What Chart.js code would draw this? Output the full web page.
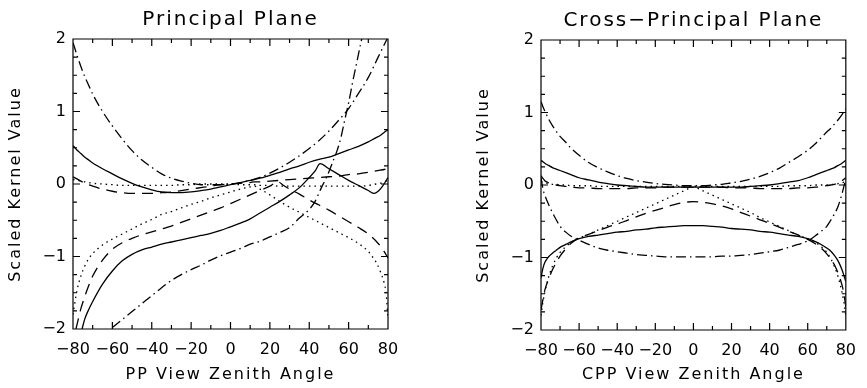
<!DOCTYPE html>
<html>
<head>
<meta charset="utf-8">
<title>Scaled kernel values</title>
<script src="https://cdn.jsdelivr.net/npm/chart.js@4.4.1/dist/chart.umd.min.js"></script>
<style>
  body { margin: 0; background: #fff; }
  canvas.panel { position: absolute; top: 0; }
</style>
</head>
<body>
<canvas id="pp" class="panel" width="434" height="388" style="left:0"></canvas>
<canvas id="cpp" class="panel" width="433" height="388" style="left:434px"></canvas>
<script>
// axis ticks
const xTicks = [-80, -60, -40, -20, 0, 20, 40, 60, 80];
const xMinorTicks = [-80, -70, -60, -50, -40, -30, -20, -10, 0, 10, 20, 30, 40, 50, 60, 70, 80];
const yTicks = [-2, -1, 0, 1, 2];
const yMinorTicks = [-2, -1.75, -1.5, -1.25, -1, -0.75, -0.5, -0.25, 0, 0.25, 0.5, 0.75, 1, 1.25, 1.5, 1.75, 2];

// ---- principal plane ----
const ppAngle = [-80, -78, -76, -74, -72, -70, -65, -60, -55, -50, -45, -40, -35, -30, -25, -20, -15, -10, -5, 0,
  5, 10, 12, 15, 20, 25, 30, 35, 40, 45, 50, 55, 60, 65, 70, 72, 74, 76, 78, 79, 80];
const ppSolidUpper = [0.53, 0.47, 0.42, 0.37, 0.33, 0.29, 0.21, 0.14, 0.07, 0.01, -0.04, -0.08, -0.11, -0.12, -0.12, -0.11, -0.09, -0.07, -0.04, -0.01,
  0.02, 0.05, 0.06, 0.08, 0.12, 0.16, 0.21, 0.25, 0.30, 0.34, 0.37, 0.42, 0.47, 0.52, 0.58, 0.61, 0.64, 0.67, 0.71, 0.73, 0.75];
const ppDashedUpper = [0.10, 0.07, 0.04, 0.01, -0.01, -0.03, -0.07, -0.10, -0.12, -0.13, -0.13, -0.13, -0.12, -0.11, -0.09, -0.07, -0.05, -0.03, -0.01, 0.00,
  0.01, 0.02, 0.03, 0.03, 0.04, 0.05, 0.06, 0.07, 0.08, 0.09, 0.10, 0.11, 0.13, 0.14, 0.16, 0.17, 0.18, 0.19, 0.20, 0.21, 0.22];
const ppDottedUpper = [0.06, 0.05, 0.04, 0.03, 0.02, 0.01, 0.00, -0.01, -0.02, -0.02, -0.02, -0.02, -0.02, -0.02, -0.01, -0.01, 0.00, 0.00, 0.00, 0.00,
  -0.01, -0.01, -0.01, -0.02, -0.02, -0.03, -0.03, -0.03, -0.03, -0.03, -0.03, -0.03, -0.03, -0.03, -0.02, -0.01, 0.00, 0.01, 0.03, 0.04, 0.05];
const ppDottedLower = [-1.80, -1.47, -1.27, -1.13, -1.03, -0.96, -0.84, -0.76, -0.69, -0.62, -0.55, -0.49, -0.42, -0.38, -0.33, -0.28, -0.24, -0.19, -0.15, -0.11,
  -0.07, -0.04, -0.03, -0.07, -0.15, -0.24, -0.32, -0.39, -0.46, -0.53, -0.60, -0.67, -0.74, -0.82, -0.93, -1.00, -1.08, -1.20, -1.36, -1.50, -1.85];

const ppSolidLowerAngle = [-75.4, -74, -72, -70, -65, -60, -55, -50, -45, -40, -35, -30, -25, -20, -15, -10, -5, 0,
  5, 10, 15, 20, 25, 30, 35, 40, 43, 45.5, 50, 55, 60, 65, 70, 73, 75, 77, 80];
const ppSolidLower = [-2.0, -1.86, -1.73, -1.62, -1.38, -1.20, -1.06, -0.97, -0.91, -0.87, -0.83, -0.80, -0.77, -0.74, -0.71, -0.68, -0.64, -0.59,
  -0.54, -0.48, -0.40, -0.32, -0.24, -0.15, -0.05, 0.09, 0.18, 0.28, 0.21, 0.13, 0.05, -0.02, -0.09, -0.13, -0.10, -0.04, 0.09];

const ppDashDotUpperAngle = [-80, -78, -76, -74, -72, -70, -65, -60, -55, -50, -45, -40, -35, -30, -25, -20, -15, -10, -5, 0,
  5, 10, 15, 20, 25, 30, 35, 40, 45, 50, 55, 60, 65, 70, 75, 79.5];
const ppDashDotUpper = [1.95, 1.78, 1.62, 1.48, 1.36, 1.24, 1.00, 0.80, 0.62, 0.46, 0.33, 0.23, 0.14, 0.08, 0.04, 0.01, -0.01, -0.01, -0.01, 0.00,
  0.02, 0.05, 0.09, 0.15, 0.22, 0.30, 0.39, 0.49, 0.60, 0.73, 0.88, 1.04, 1.25, 1.47, 1.75, 2.0];

const ppDashDotLowerAngle = [-60, -55, -50, -45, -40, -35, -30, -25, -20, -15, -10, -5, 0,
  5, 10, 15, 20, 25, 30, 35, 40, 43, 46, 48, 50, 52, 54, 56, 58, 60, 62, 64, 66, 67];
const ppDashDotLower = [-1.98, -1.87, -1.76, -1.65, -1.54, -1.43, -1.33, -1.25, -1.18, -1.12, -1.05, -0.99, -0.94,
  -0.89, -0.83, -0.79, -0.73, -0.67, -0.60, -0.47, -0.35, -0.24, -0.06, 0.05, 0.17, 0.31, 0.45, 0.63, 0.88, 1.12, 1.40, 1.66, 1.92, 2.04];

const ppDashedLowerAngle = [-78.5, -76, -74, -72, -70, -65, -60, -55, -50, -45, -40, -35, -30, -25, -20, -15, -10, -5, 0,
  5, 10, 15, 20, 24, 27, 30, 35, 40, 45, 50, 55, 60, 65, 70, 75, 78, 80];
const ppDashedLower = [-2.0, -1.72, -1.55, -1.40, -1.27, -1.05, -0.90, -0.81, -0.75, -0.70, -0.66, -0.62, -0.58, -0.53, -0.48, -0.43, -0.38, -0.33, -0.27,
  -0.21, -0.15, -0.09, -0.03, 0.03, -0.02, -0.07, -0.14, -0.22, -0.29, -0.36, -0.44, -0.52, -0.60, -0.69, -0.82, -0.93, -1.02];

// ---- cross-principal plane ----
const cppAngle = [-80, -79, -78, -76, -74, -72, -70, -67, -64, -60, -55, -50, -45, -40, -35, -30, -25, -20, -15, -10, -5, 0,
  5, 10, 15, 20, 25, 30, 35, 40, 45, 50, 55, 60, 64, 67, 70, 72, 74, 76, 78, 79, 80];
const cppDashDotUpper = [1.15, 1.08, 1.02, 0.91, 0.82, 0.74, 0.67, 0.59, 0.50, 0.41, 0.31, 0.24, 0.18, 0.13, 0.09, 0.06, 0.04, 0.02, 0.01, 0.00, -0.01, -0.01,
  -0.01, 0.00, 0.01, 0.03, 0.05, 0.08, 0.12, 0.17, 0.23, 0.31, 0.39, 0.48, 0.57, 0.65, 0.73, 0.78, 0.84, 0.90, 0.97, 1.01, 1.05];
const cppSolidUpper = [0.34, 0.32, 0.30, 0.27, 0.24, 0.22, 0.20, 0.17, 0.14, 0.10, 0.07, 0.04, 0.02, 0.00, -0.01, -0.02, -0.03, -0.03, -0.03, -0.03, -0.03, -0.03,
  -0.03, -0.03, -0.03, -0.03, -0.03, -0.02, -0.01, 0.00, 0.02, 0.04, 0.06, 0.10, 0.14, 0.17, 0.20, 0.22, 0.24, 0.27, 0.30, 0.32, 0.34];
const cppDashedUpper = [0.13, 0.09, 0.06, 0.03, 0.01, 0.00, -0.01, -0.02, -0.03, -0.04, -0.04, -0.05, -0.05, -0.05, -0.05, -0.04, -0.04, -0.04, -0.03, -0.03, -0.03, -0.03,
  -0.03, -0.03, -0.03, -0.04, -0.04, -0.04, -0.05, -0.05, -0.05, -0.05, -0.04, -0.04, -0.03, -0.02, -0.01, 0.00, 0.01, 0.03, 0.06, 0.08, 0.10];
const cppDottedUpper = [0.05, 0.04, 0.03, 0.02, 0.01, 0.01, 0.00, 0.00, -0.01, -0.01, -0.01, -0.02, -0.02, -0.02, -0.02, -0.02, -0.02, -0.02, -0.02, -0.02, -0.02, -0.02,
  -0.02, -0.02, -0.02, -0.02, -0.02, -0.02, -0.02, -0.02, -0.02, -0.01, -0.01, -0.01, 0.00, 0.00, 0.00, 0.01, 0.01, 0.02, 0.03, 0.04, 0.05];
const cppDashDotLower = [0.10, -0.05, -0.14, -0.27, -0.38, -0.48, -0.57, -0.65, -0.71, -0.76, -0.82, -0.87, -0.90, -0.92, -0.94, -0.96, -0.97, -0.98, -0.99, -0.99, -0.99, -0.99,
  -0.99, -0.99, -0.98, -0.98, -0.97, -0.96, -0.94, -0.92, -0.90, -0.86, -0.82, -0.77, -0.70, -0.64, -0.57, -0.49, -0.40, -0.29, -0.12, -0.02, 0.08];
const cppSolidLower = [-1.28, -1.15, -1.07, -0.99, -0.94, -0.90, -0.86, -0.82, -0.78, -0.74, -0.71, -0.69, -0.67, -0.65, -0.64, -0.62, -0.61, -0.59, -0.58, -0.57, -0.56, -0.56,
  -0.56, -0.57, -0.58, -0.60, -0.61, -0.62, -0.64, -0.65, -0.67, -0.69, -0.71, -0.74, -0.78, -0.82, -0.87, -0.91, -0.97, -1.05, -1.17, -1.25, -1.33];
const cppDashedLower = [-1.72, -1.58, -1.45, -1.30, -1.17, -1.07, -0.98, -0.88, -0.80, -0.73, -0.68, -0.63, -0.58, -0.54, -0.49, -0.44, -0.39, -0.35, -0.31, -0.27, -0.24, -0.23,
  -0.24, -0.26, -0.29, -0.33, -0.38, -0.43, -0.48, -0.53, -0.58, -0.64, -0.69, -0.75, -0.81, -0.87, -0.95, -1.02, -1.10, -1.22, -1.38, -1.50, -1.68];
const cppDottedLower = [-1.80, -1.62, -1.48, -1.27, -1.12, -1.01, -0.93, -0.85, -0.79, -0.73, -0.68, -0.62, -0.56, -0.50, -0.44, -0.38, -0.32, -0.26, -0.20, -0.14, -0.08, -0.03,
  -0.08, -0.14, -0.20, -0.26, -0.32, -0.38, -0.45, -0.51, -0.57, -0.63, -0.69, -0.74, -0.79, -0.85, -0.93, -1.01, -1.12, -1.27, -1.48, -1.62, -1.80];

// line styles
const SOLID = [];
const DASHED = [11, 7];
const DOTTED = [1.5, 4];
const DASH_DOT = [10, 4, 1.5, 4];

Chart.defaults.font.family = "'DejaVu Sans', sans-serif";
Chart.defaults.color = '#000';

const minus = v => (v < 0 ? '\u2212' + Math.abs(v) : String(v));

function curve(angles, values, dash) {
  return {
    data: angles.map((a, i) => ({ x: a, y: values[i] })),
    borderColor: '#000',
    borderWidth: 1.3,
    borderDash: dash,
    pointRadius: 0,
    fill: false,
    cubicInterpolationMode: 'monotone'
  };
}

// wider letter spacing for the titles, plain spacing for tick labels (drawn after the datasets)
const spacedTitles = {
  id: 'spacedTitles',
  beforeDraw(chart) { chart.ctx.letterSpacing = '2px'; },
  beforeDatasetsDraw(chart) { chart.ctx.letterSpacing = '0px'; }
};

// closed frame with inward ticks on all four sides
const frame = {
  id: 'frame',
  afterDatasetsDraw(chart) {
    const { ctx, chartArea: { left, right, top, bottom }, scales: { x, y } } = chart;
    ctx.save();
    ctx.strokeStyle = '#000';
    ctx.lineWidth = 1.2;
    ctx.beginPath();
    ctx.rect(left, top, right - left, bottom - top);
    xMinorTicks.forEach(v => {
      const px = x.getPixelForValue(v);
      const len = xTicks.includes(v) ? 7 : 4;
      ctx.moveTo(px, bottom); ctx.lineTo(px, bottom - len);
      ctx.moveTo(px, top); ctx.lineTo(px, top + len);
    });
    yMinorTicks.forEach(v => {
      const py = y.getPixelForValue(v);
      const len = yTicks.includes(v) ? 7 : 4;
      ctx.moveTo(left, py); ctx.lineTo(left + len, py);
      ctx.moveTo(right, py); ctx.lineTo(right - len, py);
    });
    ctx.stroke();
    ctx.restore();
  }
};

function panel(id, title, xTitle, datasets, pad) {
  return new Chart(document.getElementById(id), {
    type: 'line',
    data: { datasets },
    plugins: [spacedTitles, frame],
    options: {
      responsive: false,
      animation: false,
      layout: { padding: { left: pad.left, right: pad.right, top: 0, bottom: 0 } },
      plugins: {
        legend: { display: false },
        tooltip: { enabled: false },
        title: {
          display: true,
          text: title,
          fullSize: false,
          font: { size: 20, weight: 'normal' },
          padding: { top: pad.top, bottom: 7 }
        }
      },
      scales: {
        x: {
          type: 'linear',
          min: -80,
          max: 80,
          afterBuildTicks: s => { s.ticks = xTicks.map(v => ({ value: v })); },
          afterFit: s => { s.height = pad.bottom; },
          grid: { display: false, drawTicks: false },
          border: { display: false },
          ticks: { z: 1, autoSkip: false, maxRotation: 0, padding: 11, font: { size: 16 }, callback: minus },
          title: { display: true, text: xTitle, font: { size: 16 }, padding: { top: 0, bottom: 4 } }
        },
        y: {
          type: 'linear',
          min: -2,
          max: 2,
          afterBuildTicks: s => { s.ticks = yTicks.map(v => ({ value: v })); },
          afterFit: s => { s.width = 73; },
          grid: { display: false, drawTicks: false },
          border: { display: false },
          ticks: { z: 1, padding: 7, font: { size: 16 }, callback: minus },
          title: { display: true, text: 'Scaled Kernel Value', font: { size: 16 }, padding: { top: 6, bottom: 0 } }
        }
      }
    }
  });
}

panel('pp', 'Principal Plane', 'PP View Zenith Angle', [
  curve(ppAngle, ppSolidUpper, SOLID),
  curve(ppSolidLowerAngle, ppSolidLower, SOLID),
  curve(ppDashDotUpperAngle, ppDashDotUpper, DASH_DOT),
  curve(ppDashDotLowerAngle, ppDashDotLower, DASH_DOT),
  curve(ppAngle, ppDashedUpper, DASHED),
  curve(ppDashedLowerAngle, ppDashedLower, DASHED),
  curve(ppAngle, ppDottedUpper, DOTTED),
  curve(ppAngle, ppDottedLower, DOTTED)
], { left: 0, right: 46, top: 8, bottom: 59 });

panel('cpp', 'Cross\u2212Principal Plane', 'CPP View Zenith Angle', [
  curve(cppAngle, cppSolidUpper, SOLID),
  curve(cppAngle, cppSolidLower, SOLID),
  curve(cppAngle, cppDashDotUpper, DASH_DOT),
  curve(cppAngle, cppDashDotLower, DASH_DOT),
  curve(cppAngle, cppDashedUpper, DASHED),
  curve(cppAngle, cppDashedLower, DASHED),
  curve(cppAngle, cppDottedUpper, DOTTED),
  curve(cppAngle, cppDottedLower, DOTTED)
], { left: 34, right: 11, top: 9, bottom: 58 });
</script>
</body>
</html>
